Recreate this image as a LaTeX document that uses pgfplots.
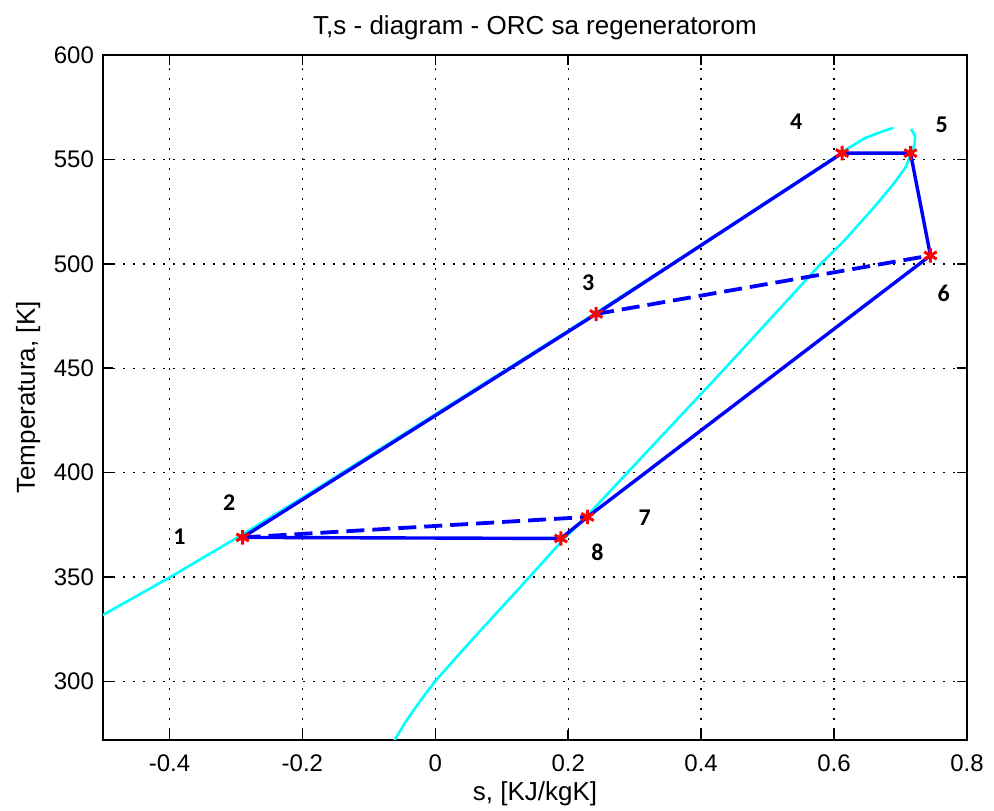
\documentclass[border=0pt]{standalone}
\usepackage{fontspec}
\setmainfont{Liberation Sans}
\newfontfamily\calib{Carlito}
\usepackage{pgfplots}
\pgfplotsset{compat=1.18}
\usetikzlibrary{calc}
\definecolor{mblue}{RGB}{0,0,255}
\definecolor{mcyan}{RGB}{0,255,255}

\begin{document}
\begin{tikzpicture}
\begin{axis}[
    scale only axis,
    width=432pt, height=342.5pt,
    xmin=-0.5, xmax=0.8,
    ymin=272, ymax=600,
    xtick={-0.4,-0.2,0,0.2,0.4,0.6,0.8},
    xticklabels={-0.4,-0.2,0,0.2,0.4,0.6,0.8},
    ytick={300,350,400,450,500,550,600},
    yticklabels={300,350,400,450,500,550,600},
    tick align=inside,
    major tick length=5pt,
    tick style={black, line width=0.8pt},
    axis line style={black, line width=0.9pt},
    grid=major,
    grid style={black, line width=0.7pt, dash pattern=on 0.8pt off 4.2pt},
    ticklabel style={font=\fontsize{12}{14}\selectfont},
    xticklabel style={yshift=-4pt},
    yticklabel style={xshift=-1pt},
    title={T,s - diagram - ORC sa regeneratorom},
    title style={font=\fontsize{13}{15}\selectfont, at={(0.5,1)}, anchor=south, yshift=-2pt},
    xlabel={s, [KJ/kgK]},
    ylabel={Temperatura, [K]},
    label style={font=\fontsize{13}{15}\selectfont},
    xlabel style={yshift=2pt},
]

% saturated liquid line
\addplot[mcyan, line width=1.3pt] coordinates {
(-0.505,331)(-0.4,349.8)(-0.295,369.5)(-0.2,388)
(-0.1,408)(0,428)(0.1,448)(0.2,468)(0.3,488.5)(0.4,509)(0.5,530)
(0.58,546.5)(0.617,554.5)(0.647,560.3)(0.671,563.2)(0.689,565.1)
};

% saturated vapour line
\addplot[mcyan, line width=1.3pt] coordinates {
(0.716,564.6)(0.722,561)(0.721,557)(0.716,553)(0.708,546.4)(0.69,538.5)
(0.661,527.4)(0.615,511)(0.58,500)(0.436,450)(0.289,400)(0.2215,377)
(0.194,368.5)(0.129,345.6)(0.065,323.4)(0.03,311)(0,300.2)(-0.015,294)(-0.03,287.5)(-0.046,280)(-0.062,271.5)
};

% cycle
\addplot[mblue, line width=1.7pt] coordinates {
(0.189,368.5)(-0.29,369)(0.242,476)(0.612,553)(0.715,553)(0.745,504)(0.229,378.8)(0.189,368.5)
};

% regenerator
\addplot[mblue, line width=1.9pt, dash pattern=on 9pt off 4pt] coordinates {
(0.242,476)(0.745,504)
};
\addplot[mblue, line width=1.9pt, dash pattern=on 9pt off 4pt] coordinates {
(-0.29,369)(0.229,378.8)
};

% state points
\addplot[only marks, red, mark=asterisk, mark size=3.6pt, line width=1.5pt] coordinates {
(-0.29,369)(0.242,476)(0.612,553)(0.715,553)(0.745,504)(0.229,378.8)(0.189,368.5)
};

\begin{scope}[every node/.style={font=\calib\bfseries\fontsize{12}{14}\selectfont}]
\node at (axis cs:-0.385,369.4) {1};
\node at (axis cs:-0.31,385.6) {2};
\node at (axis cs:0.23,490.9) {3};
\node at (axis cs:0.543,568) {4};
\node at (axis cs:0.762,566.5) {5};
\node at (axis cs:0.765,486) {6};
\node at (axis cs:0.315,378.5) {7};
\node at (axis cs:0.244,361.7) {8};
\end{scope}
\end{axis}
\pgfresetboundingbox
\path[use as bounding box] ($(current axis.south west)+(-51.5pt,-35.5pt)$) rectangle ($(current axis.north east)+(13.5pt,27.5pt)$);
\end{tikzpicture}
\end{document}
